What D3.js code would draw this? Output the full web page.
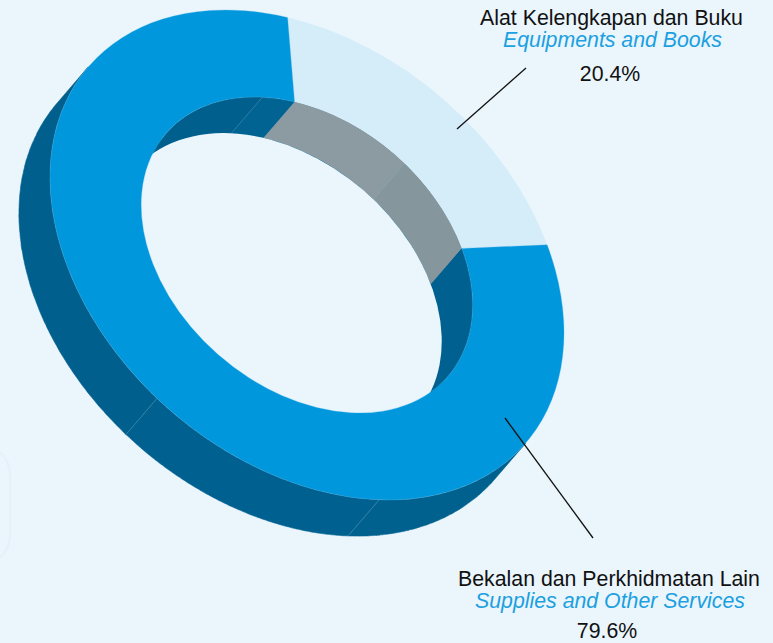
<!DOCTYPE html>
<html>
<head>
<meta charset="utf-8">
<script src="https://cdn.jsdelivr.net/npm/d3@7"></script>
<style>
html,body{margin:0;padding:0;background:#EAF5FC;}
svg{display:block;}
text{font-family:"Liberation Sans",Arial,sans-serif;}
</style>
</head>
<body>
<svg id="c" width="773" height="643"></svg>
<script>
const labelsMalay = ["Alat Kelengkapan dan Buku", "Bekalan dan Perkhidmatan Lain"];
const labelsEnglish = ["Equipments and Books", "Supplies and Other Services"];
const shares = [20.4, 79.6];
const shareLabels = ["20.4%", "79.6%"];
const topColours = ["#D5ECF9", "#0097DC"];
const wallColours = ["#8A9AA1", "#006191"];

const W = 773, H = 643;
const cx = 307, cy = 255, tilt = 40.7, rx = 288.5, ry = 207;
const innerR = 0.645, depth = 47.6 / ry;
const deg = Math.PI / 180;
const bg = "#EAF5FC";
const startDeg = -36;

const svg = d3.select("#c");
svg.append("rect").attr("width", W).attr("height", H).attr("fill", bg);
svg.append("rect").attr("x", -40).attr("y", 447).attr("width", 50).attr("height", 116)
  .attr("rx", 28).attr("fill", "none").attr("stroke", "#E3F1FB").attr("stroke-width", 2);

const g = svg.append("g")
  .attr("transform", `translate(${cx},${cy}) rotate(${tilt}) scale(${rx},${ry})`);

const pie = d3.pie().sort(null).startAngle(startDeg * deg).endAngle(startDeg * deg + 2 * Math.PI);
const slices = pie(shares);
const arc = d3.arc();
const pt = (r, a, dy = 0) => [r * Math.sin(a), -r * Math.cos(a) + dy];
const line = d3.line();

function sweep(r, a0, a1) {
  const angles = d3.range(0, 121).map(i => a0 + (a1 - a0) * i / 120);
  const pts = angles.map(a => pt(r, a)).concat(angles.slice().reverse().map(a => pt(r, a, depth)));
  return line(pts) + "Z";
}
function seam(r, a) { return line([pt(r, a), pt(r, a, depth)]); }

const nss = s => s.attr("vector-effect", "non-scaling-stroke");

// outer wall, facets split at the seams
const outerFacets = [[90, 132, "#00618F"], [132, 184, "#006090"], [184, 270, "#005F8D"]];
outerFacets.forEach(([a, b, col]) => {
  nss(g.append("path").attr("d", sweep(1, a * deg, b * deg)).attr("fill", col)
    .attr("stroke", col).attr("stroke-width", 0.6));
});

// inner wall
g.append("path").attr("d", arc({innerRadius: 0, outerRadius: innerR, startAngle: 0, endAngle: 2 * Math.PI}))
  .attr("fill", wallColours[1]);
const innerFacets = [
  [-90, -47.3, "#005F8C"], [-47.3, slices[0].startAngle / deg, "#006392"],
  [slices[0].startAngle / deg, 4.4, "#8C9BA2"], [4.4, slices[0].endAngle / deg, "#85969D"],
  [slices[0].endAngle / deg, 90, "#006191"]
];
innerFacets.forEach(([a, b, col]) => {
  g.append("path").attr("d", sweep(innerR, a * deg, b * deg)).attr("fill", col);
});
// seams
[[1, 132], [1, 184], [innerR, -47.3], [innerR, 4.4]].forEach(([r, a]) => {
  nss(g.append("path").attr("d", seam(r, a * deg)).attr("fill", "none")
    .attr("stroke", r === 1 ? "#4E93B5" : (a > 0 ? "#A5B3B9" : "#4E93B5")).attr("stroke-width", 0.6));
});
// hole: bottom rim of the inner wall
g.append("path").attr("transform", `translate(0,${depth})`)
  .attr("d", arc({innerRadius: 0, outerRadius: innerR, startAngle: 0, endAngle: 2 * Math.PI}))
  .attr("fill", bg);

// top face
g.selectAll("path.top").data(slices).enter().append("path").attr("class", "top")
  .attr("d", d => arc({innerRadius: innerR, outerRadius: 1, startAngle: d.startAngle, endAngle: d.endAngle}))
  .attr("fill", (d, i) => topColours[i])
  .attr("stroke", (d, i) => i === 1 ? "#5DB9E6" : "none")
  .attr("stroke-width", 0.3)
  .attr("vector-effect", "non-scaling-stroke");

// leader lines
[[526, 68, 457, 129], [593, 538, 505, 418]].forEach(([x1, y1, x2, y2]) => {
  svg.append("line").attr("x1", x1).attr("y1", y1).attr("x2", x2).attr("y2", y2)
    .attr("stroke", "#111").attr("stroke-width", 1.3);
});

// labels
const fs = 21.3;
const put = (t, x, y, col, it) => svg.append("text").text(t).attr("x", x).attr("y", y)
  .attr("text-anchor", "middle").attr("font-size", fs).attr("fill", col)
  .attr("font-style", it ? "italic" : "normal");
put(labelsMalay[0], 611.5, 25, "#111", false);
put(labelsEnglish[0], 612.5, 47, "#1BA0E0", true);
put(shareLabels[0], 610, 81, "#111", false);
put(labelsMalay[1], 609, 586, "#111", false);
put(labelsEnglish[1], 610, 608, "#1BA0E0", true);
put(shareLabels[1], 607, 638, "#111", false);
</script>
</body>
</html>
